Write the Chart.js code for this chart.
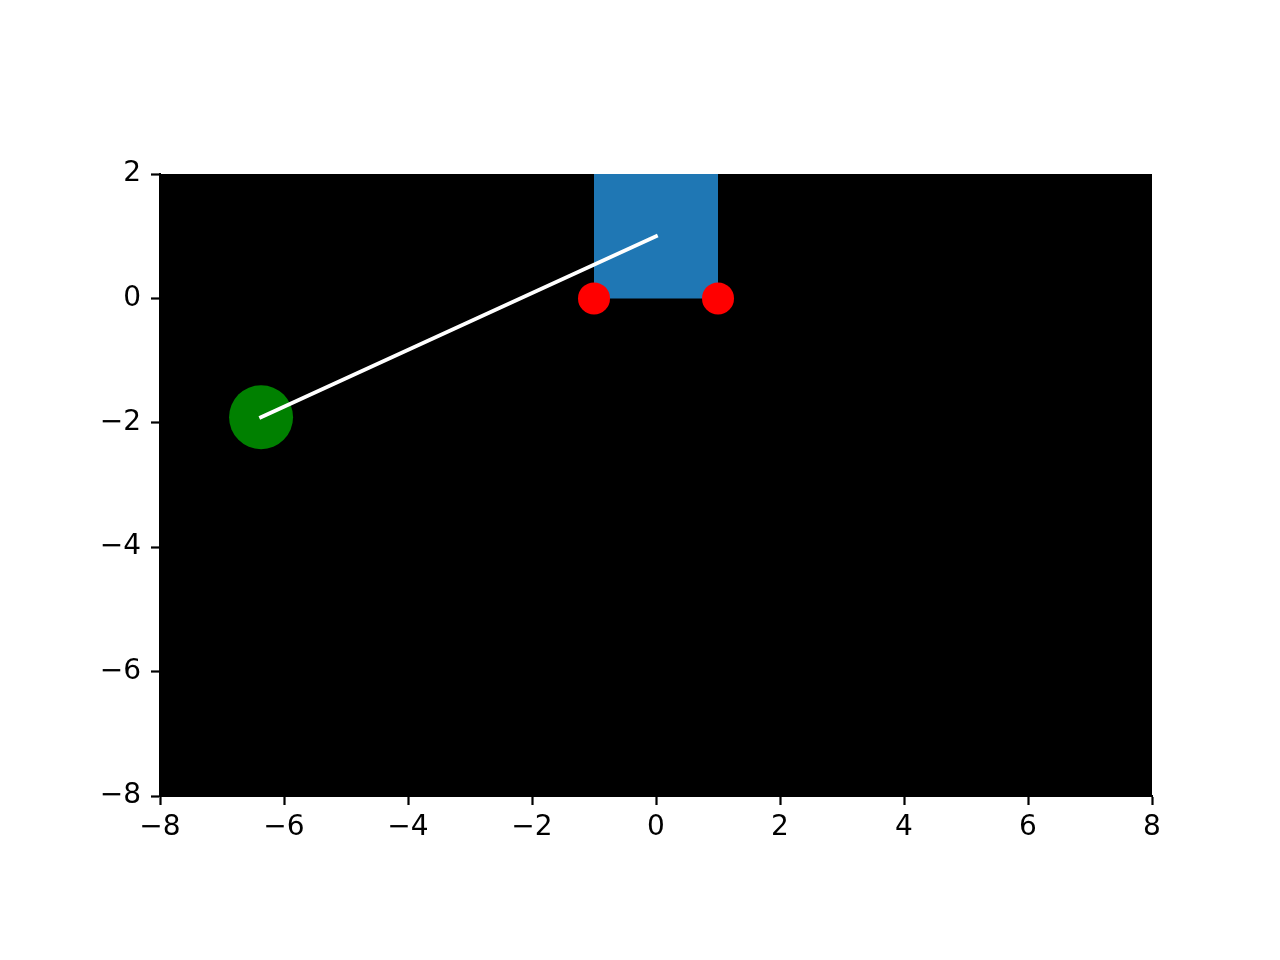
<!DOCTYPE html>
<html>
<head>
<meta charset="utf-8">
<script src="https://cdn.jsdelivr.net/npm/chart.js@4"></script>
<style>
  html, body { margin: 0; padding: 0; background: #fff; }
  #wrap { width: 1280px; height: 960px; }
</style>
</head>
<body>
<div id="wrap"><canvas id="c" width="1280" height="960"></canvas></div>
<script>
// axis ticks
const xTicks = [-8, -6, -4, -2, 0, 2, 4, 6, 8];
const yTicks = [-8, -6, -4, -2, 0, 2];

// scene pieces
const boxTop = [{ x: -1, y: 2 }, { x: 1, y: 2 }];          // box from y=0 up to y=2
const wheels = [{ x: -1, y: 0 }, { x: 1, y: 0 }];
const pivot = { x: 0, y: 1 };
const bob = { x: -6.37, y: -1.91 };
const rod = [pivot, bob];

const minus = v => (v < 0 ? '\u2212' + Math.abs(v) : String(v));

const blackArea = {
    id: 'blackArea',
    beforeDatasetsDraw(chart) {
        const { ctx, chartArea: a } = chart;
        ctx.save();
        ctx.fillStyle = '#000';
        ctx.fillRect(a.left, a.top, a.right - a.left, a.bottom - a.top);
        ctx.restore();
    },
};

const tickFont = { family: '"DejaVu Sans", sans-serif', size: 28 };

new Chart(document.getElementById('c'), {
    type: 'scatter',
    data: {
        datasets: [
            { type: 'line', data: rod, borderColor: '#fff', borderWidth: 3.8, borderCapStyle: 'square', pointRadius: 0, fill: false, order: 0 },
            { data: wheels, backgroundColor: '#ff0000', borderWidth: 0, pointRadius: 16, order: 1 },
            { data: [bob], backgroundColor: '#008000', borderWidth: 0, pointRadius: 32, order: 2 },
            { type: 'line', data: boxTop, backgroundColor: '#1f77b4', borderWidth: 0, pointRadius: 0, fill: 'origin', order: 3 },
        ],
    },
    options: {
        responsive: false,
        devicePixelRatio: 1,
        animation: false,
        events: [],
        layout: { padding: { left: 0, top: 174, right: 128, bottom: 0 } },
        plugins: { legend: { display: false }, tooltip: { enabled: false } },
        scales: {
            x: {
                type: 'linear', min: -8, max: 8,
                afterFit: s => { s.height = 164; },
                afterBuildTicks: s => { s.ticks = xTicks.map(v => ({ value: v })); },
                grid: { drawOnChartArea: false, tickLength: 9, tickWidth: 2.2, tickColor: '#000' },
                border: { display: true, color: '#000', width: 2 },
                ticks: { color: '#000', font: tickFont, padding: 6, maxRotation: 0, callback: minus },
            },
            y: {
                type: 'linear', min: -8, max: 2,
                afterFit: s => { s.width = 160; },
                afterBuildTicks: s => { s.ticks = yTicks.map(v => ({ value: v })); },
                grid: { drawOnChartArea: false, tickLength: 9, tickWidth: 2.2, tickColor: '#000' },
                border: { display: true, color: '#000', width: 2 },
                ticks: { color: '#000', font: tickFont, padding: 10, callback: minus },
            },
        },
    },
    plugins: [blackArea],
});
</script>
</body>
</html>
